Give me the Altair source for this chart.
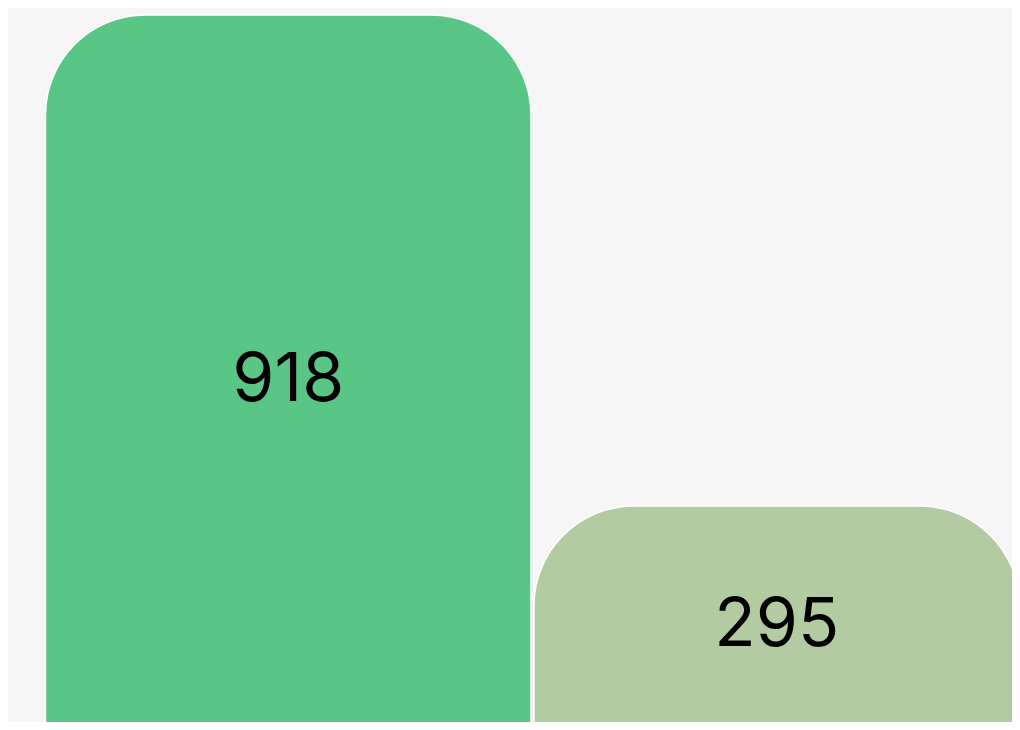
import altair as alt
import pandas as pd

categories = ["A", "B"]
values = [918, 295]
colors = ["#5ac685", "#b2cba0"]

df = pd.DataFrame({"category": categories, "value": values})

x = alt.X(
    "category:N",
    sort=categories,
    axis=None,
    scale=alt.Scale(range=[37.5, 1011.5], paddingInner=0.0061, paddingOuter=0),
)
y_scale = alt.Scale(domain=[20.9, 926.9], zero=False, nice=False)

bars = alt.Chart(df).mark_bar(
    clip=True,
    cornerRadiusTopLeft=100,
    cornerRadiusTopRight=100,
    stroke="white",
    strokeWidth=1.5,
).encode(
    x=x,
    y=alt.Y("value:Q", scale=y_scale, axis=None),
    y2=alt.datum(0),
    color=alt.Color("category:N", scale=alt.Scale(domain=categories, range=colors), legend=None),
)

labels = alt.Chart(df).transform_calculate(
    mid="datum.value / 2"
).mark_text(
    font="Inter",
    fontSize=68,
    color="black",
    baseline="middle",
    align="center",
    dy=4,
).encode(
    x=x,
    y=alt.Y("mid:Q", scale=y_scale, axis=None),
    text=alt.Text("value:Q"),
)

chart = alt.layer(bars, labels).properties(
    width=1004,
    height=714,
    padding=0,
    background="#f6f6f6",
    autosize=alt.AutoSizeParams(type="none"),
).configure_view(stroke=None)

chart.save("out.html", embed_options={"renderer": "svg", "actions": False})
